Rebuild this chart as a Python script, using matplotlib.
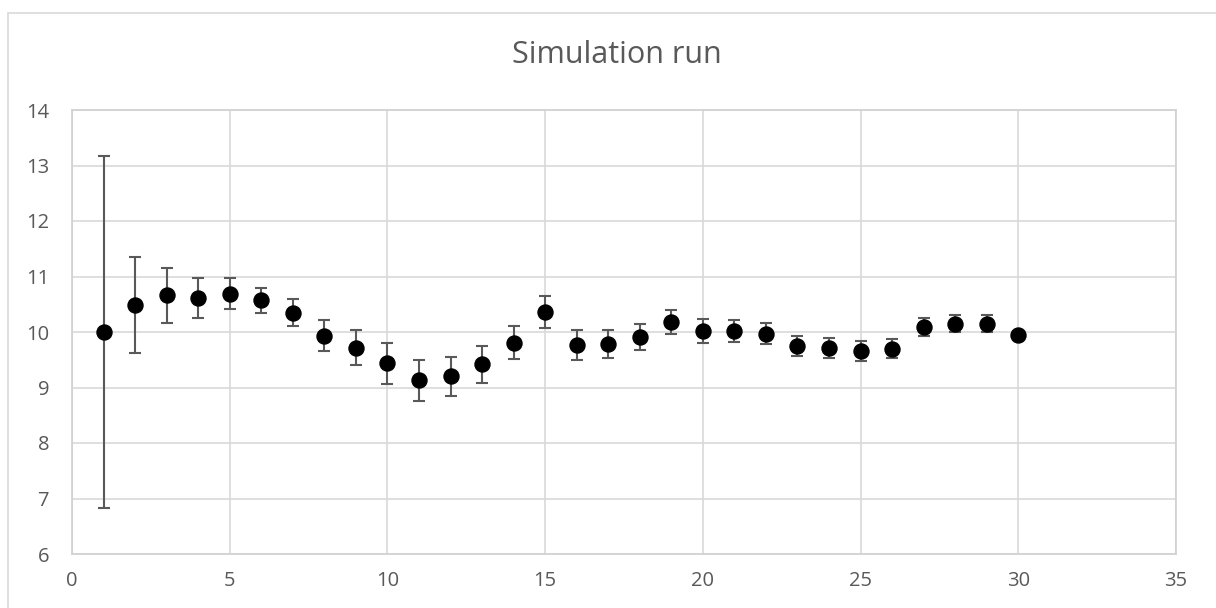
import matplotlib
matplotlib.use("Agg")
import matplotlib.pyplot as plt
from matplotlib.patches import Rectangle

plt.rcParams['font.family'] = ['Open Sans', 'DejaVu Sans']

# Simulation run: running mean per step with its error margin
steps = list(range(1, 31))
means = [10.00, 10.49, 10.66, 10.61, 10.69, 10.57, 10.35, 9.93, 9.72, 9.44,
         9.13, 9.20, 9.42, 9.81, 10.36, 9.77, 9.78, 9.91, 10.18, 10.02,
         10.02, 9.97, 9.75, 9.72, 9.66, 9.70, 10.09, 10.15, 10.15, 9.94]
errors = [3.17, 0.86, 0.49, 0.36, 0.28, 0.23, 0.25, 0.28, 0.31, 0.37,
          0.37, 0.35, 0.33, 0.30, 0.29, 0.27, 0.25, 0.24, 0.22, 0.215,
          0.20, 0.195, 0.185, 0.18, 0.175, 0.17, 0.16, 0.155, 0.155, 0.0]
x_ticks = [0, 5, 10, 15, 20, 25, 30, 35]
y_ticks = [6, 7, 8, 9, 10, 11, 12, 13, 14]

W, H = 1216, 608
fig = plt.figure(figsize=(W / 100, H / 100), dpi=100)
fig.patch.set_facecolor('white')

# outer chart frame
fig.add_artist(Rectangle((7.5 / W, -0.05), 1.2, 1 - 12.5 / H + 0.05,
                         transform=fig.transFigure, fill=False,
                         edgecolor='#d9d9d9', linewidth=1.2))

left, right, top, bottom = 72, 1176, 110, 554
ax = fig.add_axes([left / W, 1 - bottom / H, (right - left) / W, (bottom - top) / H])

ax.errorbar(steps, means, yerr=errors, fmt='o', color='black',
            markersize=10.8, ecolor='#595959', elinewidth=1.5,
            capsize=4.3, capthick=1.5, zorder=3)

ax.set_xlim(0, 35)
ax.set_ylim(6, 14)
ax.set_xticks(x_ticks)
ax.set_yticks(y_ticks)
ax.grid(True, color='#d9d9d9', linewidth=1.2, zorder=0)
ax.set_axisbelow(True)
for s in ax.spines.values():
    s.set_color('#d0d0d0')
    s.set_linewidth(1.2)
ax.tick_params(length=0, colors='#595959', labelsize=14.5)
ax.tick_params(axis='x', pad=12.5)
ax.tick_params(axis='y', pad=16.5)

fig.text(617 / W, 1 - 55 / H, 'Simulation run', ha='center', va='center',
         fontsize=22, color='#595959')

fig.savefig('out.png', dpi=100, facecolor='white')
